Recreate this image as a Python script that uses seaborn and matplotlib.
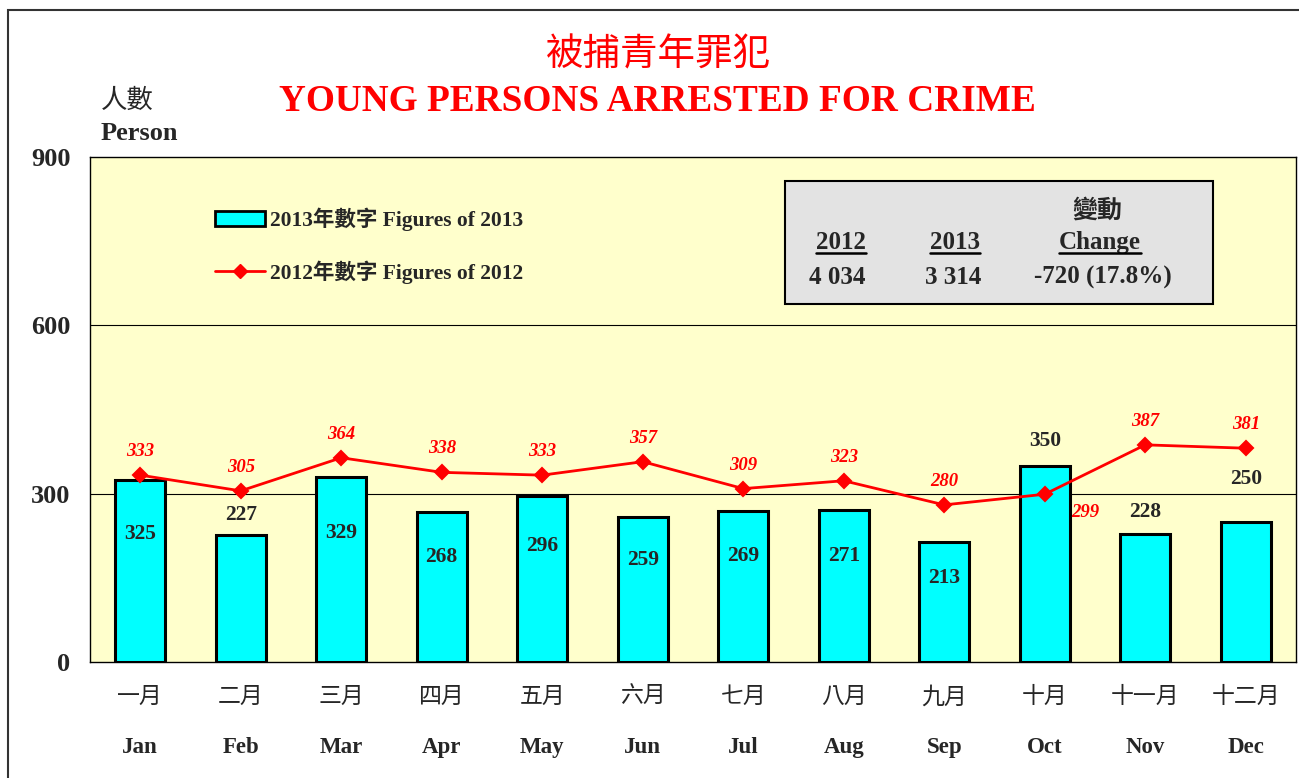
import numpy as np
import pandas as pd
import matplotlib.pyplot as plt
import seaborn as sns
from matplotlib.patches import Patch, Rectangle
from matplotlib.lines import Line2D

months_zh = ['一月', '二月', '三月', '四月', '五月', '六月', '七月', '八月', '九月', '十月', '十一月', '十二月']
months_en = ['Jan', 'Feb', 'Mar', 'Apr', 'May', 'Jun', 'Jul', 'Aug', 'Sep', 'Oct', 'Nov', 'Dec']
figs_2013 = [325, 227, 329, 268, 296, 259, 269, 271, 213, 350, 228, 250]
figs_2012 = [333, 305, 364, 338, 333, 357, 309, 323, 280, 299, 387, 381]
total_2012 = '4 034'
total_2013 = '3 314'
change = '-720 (17.8%)'

# where each 2013 label sits: inside the bar or above it (offset in points)
label_inside = [True, False, True, True, True, True, True, True, True, False, False, False]
label_above_pts = [0, 14, 0, 0, 0, 0, 0, 0, 0, 18, 16, 31]

df = pd.DataFrame({'month': months_en, 'y2013': figs_2013, 'y2012': figs_2012})

sns.set_style('white')
serif = ['Liberation Serif', 'Noto Sans CJK TC']
cjk = ['Noto Sans CJK TC', 'DejaVu Sans']
plt.rcParams['font.family'] = serif

fig = plt.figure(figsize=(12.99, 7.78), dpi=100)
ax = fig.add_axes([90 / 1299, 1 - 662 / 778, 1206 / 1299, 505 / 778])
ax.set_facecolor('#FFFFCC')

sns.barplot(data=df, x='month', y='y2013', color='#00FFFF', saturation=1,
            edgecolor='black', linewidth=2.2, width=0.5, ax=ax, zorder=2)
sns.pointplot(data=df, x='month', y='y2012', color='red', marker='D',
              markersize=7, linewidth=2, errorbar=None, ax=ax, zorder=4)

ax.set_ylim(0, 900)
ax.set_xlim(-0.5, 11.5)
ax.set_yticks([0, 300, 600, 900])
ax.set_yticklabels(['0', '300', '600', '900'], fontsize=19, fontweight='bold')
ax.tick_params(axis='y', length=0, pad=14)
ax.set_xticks([])
ax.set_xlabel('')
ax.set_ylabel('')
for y in [300, 600]:
    ax.axhline(y, color='black', lw=0.8, zorder=1)
for s in ax.spines.values():
    s.set_color('black')
    s.set_linewidth(1)

# month labels
for i in range(12):
    ax.text(i, -0.069, months_zh[i], transform=ax.get_xaxis_transform(),
            ha='center', va='center', fontsize=16.5, family=cjk)
    ax.text(i, -0.170, months_en[i], transform=ax.get_xaxis_transform(),
            ha='center', va='center', fontsize=16.5, fontweight='bold')

# 2013 labels
for i, v in enumerate(figs_2013):
    if label_inside[i]:
        ax.text(i, v * 0.7, str(v), ha='center', va='center',
                fontsize=15.5, fontweight='bold', zorder=5)
    else:
        ax.annotate(str(v), (i, v), xytext=(0, label_above_pts[i]),
                    textcoords='offset points', ha='center', va='center',
                    fontsize=15.5, fontweight='bold', zorder=5)

# 2012 labels
for i, v in enumerate(figs_2012):
    off = (29, -13) if months_en[i] == 'Oct' else (0, 17)
    ax.annotate(str(v), (i, v), xytext=off, textcoords='offset points',
                ha='center', va='center', fontsize=13.5, fontweight='bold',
                style='italic', color='red', zorder=5)

# legend
handles = [Patch(facecolor='#00FFFF', edgecolor='black', linewidth=2),
           Line2D([], [], color='red', marker='D', lw=2, markersize=7)]
ax.legend(handles, ['2013年數字 Figures of 2013', '2012年數字 Figures of 2012'],
          loc='upper left', bbox_to_anchor=(0.104, 0.899), frameon=False,
          borderaxespad=0, borderpad=0, handlelength=2.3, handletextpad=0.25,
          labelspacing=1.35, prop={'family': serif, 'weight': 'bold', 'size': 15.5})

# summary box
ax.add_patch(Rectangle((0.576, 0.709), 0.355, 0.243, transform=ax.transAxes,
                       facecolor='#E3E3E3', edgecolor='black', lw=1.5, zorder=3))
box_kw = dict(transform=ax.transAxes, ha='center', va='center', fontsize=18,
              fontweight='bold', zorder=6)
ax.text(0.835, 0.893, '變動', family=cjk, **box_kw)
heads = [ax.text(0.623, 0.830, '2012', **box_kw),
         ax.text(0.717, 0.830, '2013', **box_kw),
         ax.text(0.8375, 0.830, 'Change', **box_kw)]
ax.text(0.620, 0.762, total_2012, **box_kw)
ax.text(0.716, 0.762, total_2013, **box_kw)
ax.text(0.840, 0.762, change, **box_kw)

# titles
fig.text(0.507, 0.929, '被捕青年罪犯', ha='center', va='center', fontsize=27,
         color='red', family=cjk)
fig.text(0.506, 0.870, 'YOUNG PERSONS ARRESTED FOR CRIME', ha='center', va='center',
         fontsize=26.8, color='red', fontweight='bold')
fig.text(101 / 1299, 1 - 100 / 778, '人數', ha='left', va='center', fontsize=19, family=cjk)
fig.text(101 / 1299, 1 - 133 / 778, 'Person', ha='left', va='center', fontsize=19,
         fontweight='bold')

fig.patches.append(Rectangle((8 / 1299, -0.05), 1.1, 1.05 - 10 / 778, transform=fig.transFigure,
                             fill=False, edgecolor='#333333', lw=1.5))

# underline the box headers
fig.canvas.draw()
inv = fig.transFigure.inverted()
for t in heads:
    bb = t.get_window_extent()
    (x0, y0), (x1, _) = inv.transform([(bb.x0, bb.y0 + 1), (bb.x1, bb.y0)])
    fig.add_artist(Line2D([x0, x1], [y0, y0], transform=fig.transFigure,
                          color='black', lw=1.8))

fig.savefig('out.png', dpi=100)
